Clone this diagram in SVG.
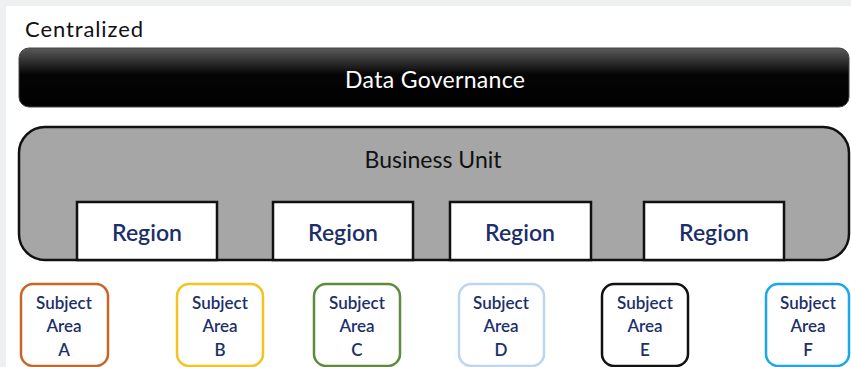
<svg xmlns="http://www.w3.org/2000/svg" width="851" height="367" viewBox="0 0 851 367">
  <style>
    .lbl { font-family: Lato, "Open Sans", "Liberation Sans", sans-serif; text-anchor: middle; }
    .region rect { fill: #ffffff; stroke: #111111; stroke-width: 2.5; }
    .region text { font-size: 23px; fill: #1c2f6b; font-weight: 600; }
    .subj rect { fill: #ffffff; stroke-width: 2.5; }
    .subj text { font-size: 17px; fill: #1c2f6b; font-weight: 600; }
  </style>
  <defs>
    <linearGradient id="gBar" x1="0" y1="0" x2="0" y2="1">
      <stop offset="0" stop-color="#5a5a5a"/>
      <stop offset="0.45" stop-color="#050505"/>
      <stop offset="1" stop-color="#000000"/>
    </linearGradient>
  </defs>
  <rect x="0" y="0" width="851" height="367" fill="#eef0f2"/>
  <rect x="6" y="6" width="845" height="361" fill="#ffffff"/>

  <text class="lbl" x="25" y="37" font-size="22" fill="#111111" style="text-anchor:start" textLength="118" lengthAdjust="spacing">Centralized</text>

  <g id="data-governance">
    <rect x="19" y="48" width="830" height="59" rx="10" fill="url(#gBar)" stroke="#444444" stroke-width="1"/>
    <text class="lbl" x="435" y="88" font-size="23" fill="#ffffff" textLength="180" lengthAdjust="spacing">Data Governance</text>
  </g>

  <g id="business-unit">
    <rect x="19" y="127" width="830" height="133" rx="26" fill="#a6a6a6" stroke="#111111" stroke-width="2.5"/>
    <text class="lbl" x="433" y="168" font-size="23" fill="#111111" textLength="137" lengthAdjust="spacing">Business Unit</text>
  </g>

  <g id="region-1" class="region">
    <rect x="77" y="202" width="140" height="58"/>
    <text class="lbl" x="147" y="241">Region</text>
  </g>
  <g id="region-2" class="region">
    <rect x="273" y="202" width="140" height="58"/>
    <text class="lbl" x="343" y="241">Region</text>
  </g>
  <g id="region-3" class="region">
    <rect x="450" y="202" width="141" height="58"/>
    <text class="lbl" x="520" y="241">Region</text>
  </g>
  <g id="region-4" class="region">
    <rect x="644" y="202" width="140" height="58"/>
    <text class="lbl" x="714" y="241">Region</text>
  </g>

  <g id="subject-a" class="subj">
    <rect x="21" y="284" width="87" height="82" rx="12" stroke="#c8662a"/>
    <text class="lbl" x="64" y="309">Subject</text>
    <text class="lbl" x="64" y="332">Area</text>
    <text class="lbl" x="64" y="356">A</text>
  </g>
  <g id="subject-b" class="subj">
    <rect x="177" y="284" width="86" height="82" rx="12" stroke="#f6c21c"/>
    <text class="lbl" x="220" y="309">Subject</text>
    <text class="lbl" x="220" y="332">Area</text>
    <text class="lbl" x="220" y="356">B</text>
  </g>
  <g id="subject-c" class="subj">
    <rect x="314" y="284" width="86" height="82" rx="12" stroke="#5e8c3c"/>
    <text class="lbl" x="357" y="309">Subject</text>
    <text class="lbl" x="357" y="332">Area</text>
    <text class="lbl" x="357" y="356">C</text>
  </g>
  <g id="subject-d" class="subj">
    <rect x="459" y="284" width="85" height="82" rx="12" stroke="#bcd6ef"/>
    <text class="lbl" x="501" y="309">Subject</text>
    <text class="lbl" x="501" y="332">Area</text>
    <text class="lbl" x="501" y="356">D</text>
  </g>
  <g id="subject-e" class="subj">
    <rect x="602" y="284" width="86" height="82" rx="12" stroke="#111111"/>
    <text class="lbl" x="645" y="309">Subject</text>
    <text class="lbl" x="645" y="332">Area</text>
    <text class="lbl" x="645" y="356">E</text>
  </g>
  <g id="subject-f" class="subj">
    <rect x="766" y="284" width="83" height="82" rx="12" stroke="#1aa8e8"/>
    <text class="lbl" x="808" y="309">Subject</text>
    <text class="lbl" x="808" y="332">Area</text>
    <text class="lbl" x="808" y="356">F</text>
  </g>

  <g id="connectors"/>
</svg>
